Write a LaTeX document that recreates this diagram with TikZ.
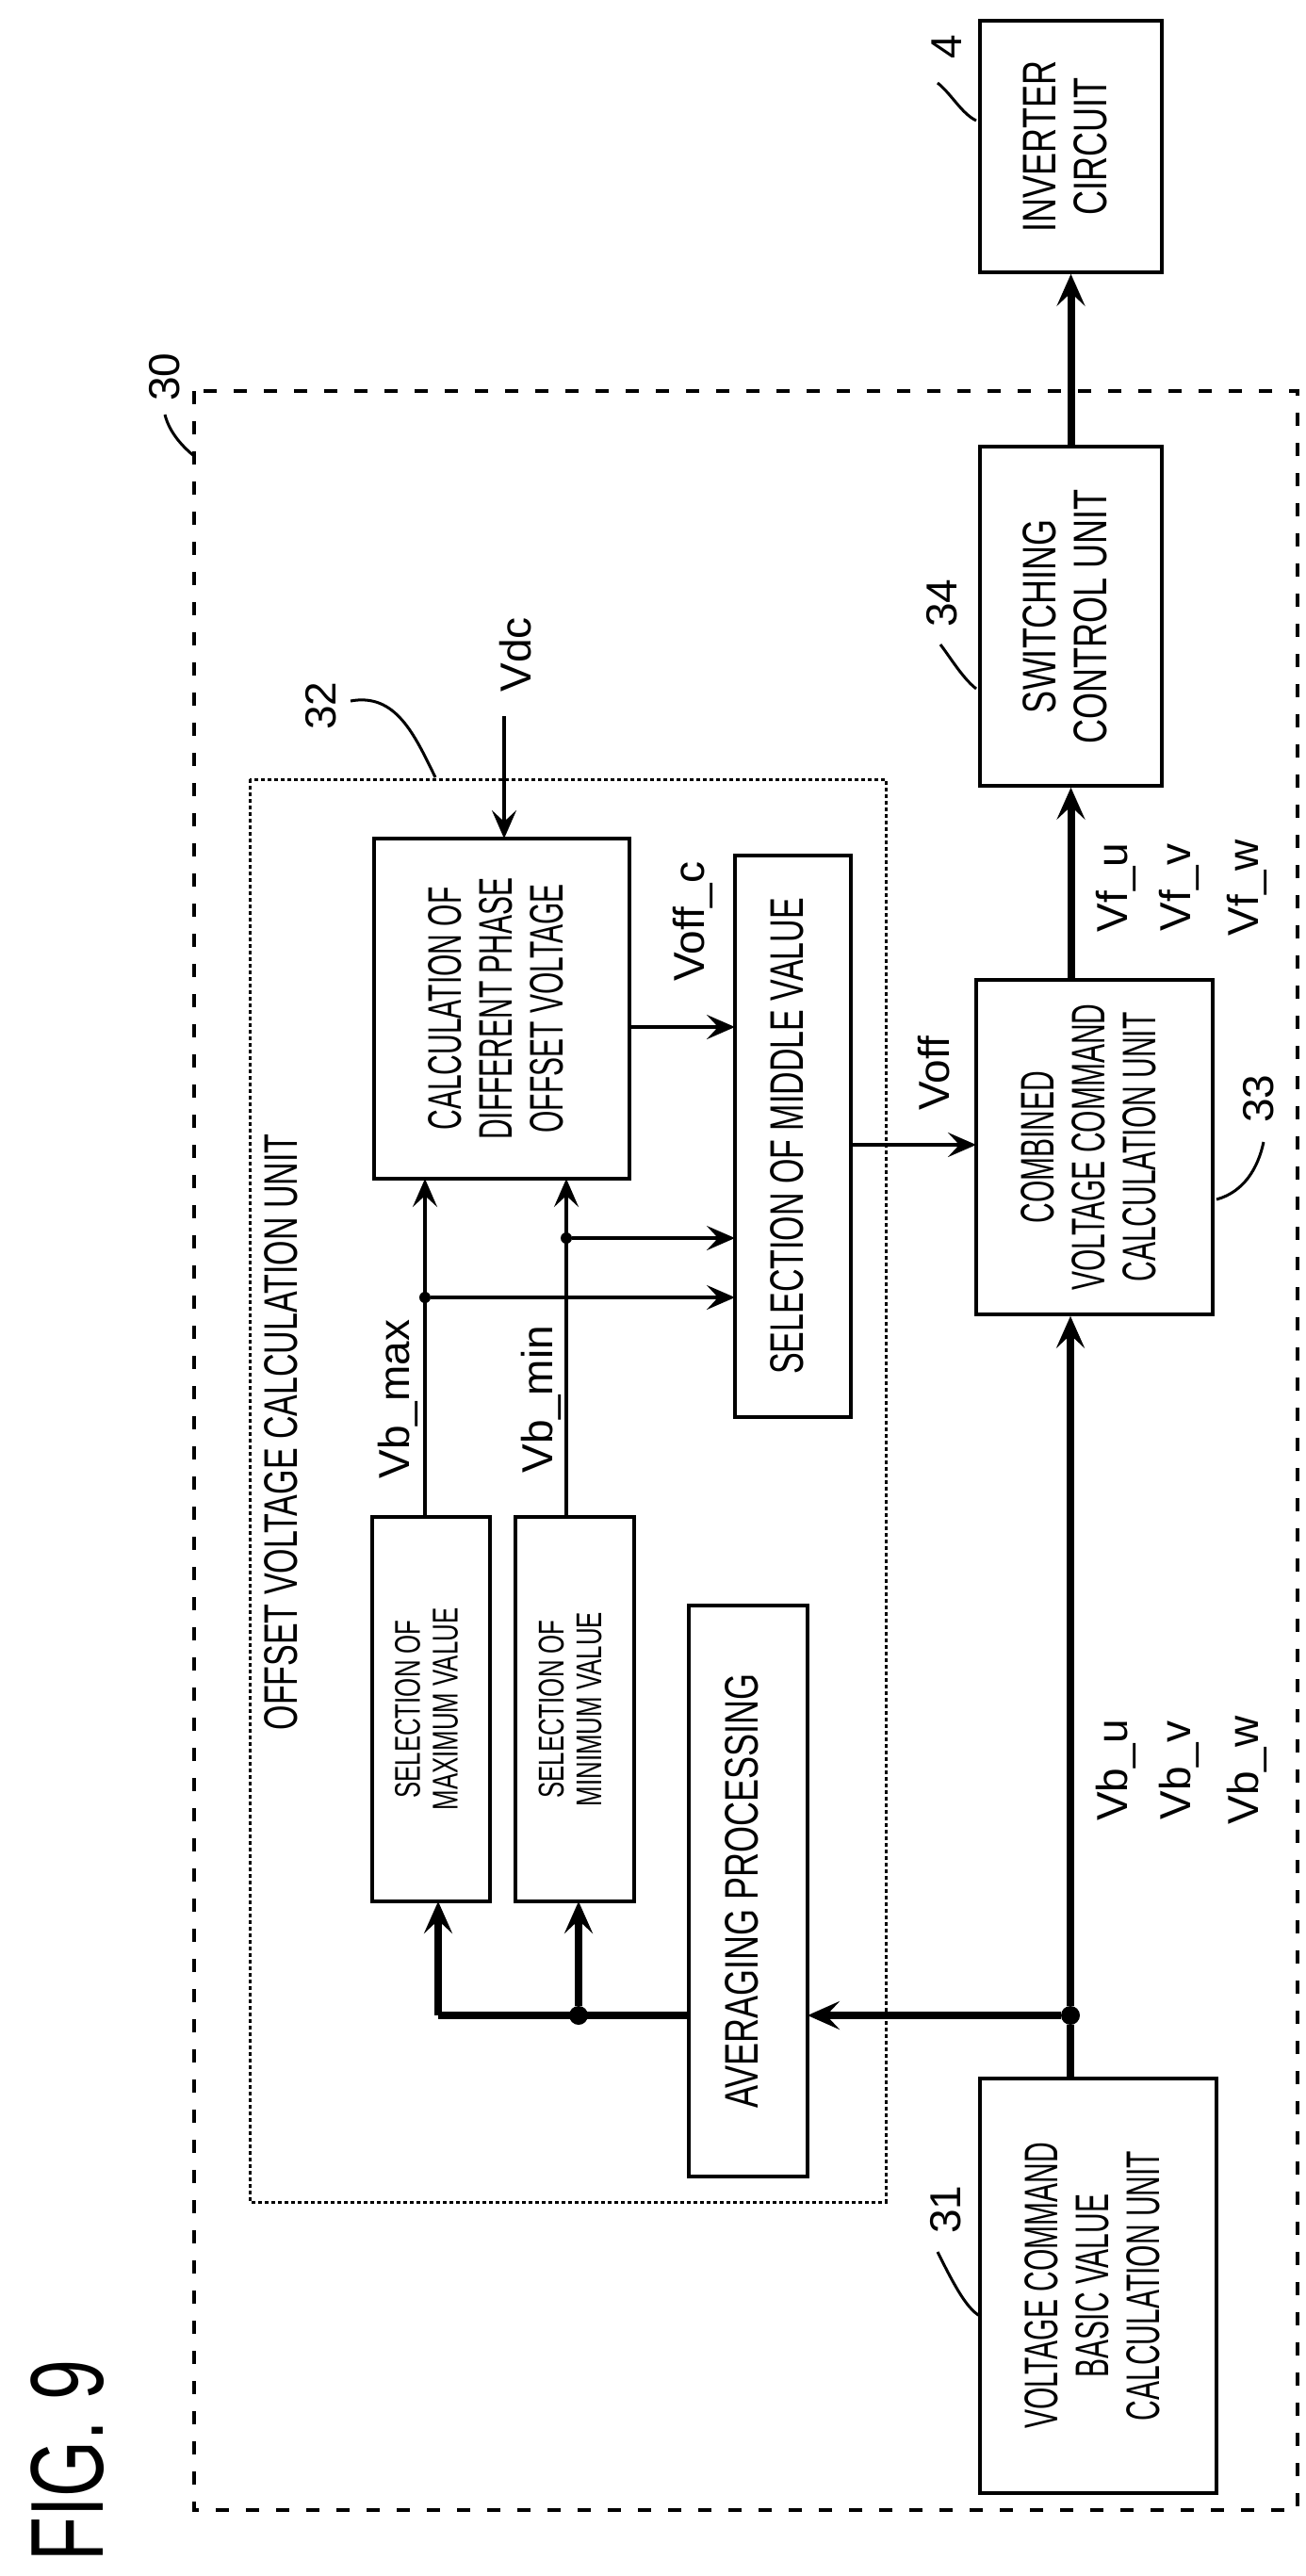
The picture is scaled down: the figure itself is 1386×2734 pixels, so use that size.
\documentclass[tikz,border=0pt]{standalone}
\usepackage{fontspec}
\setmainfont{Liberation Sans}
\usetikzlibrary{arrows.meta,fit}
\newcommand\cnd[2][0.72]{\scalebox{#1}[1]{\begin{tabular}{@{}c@{}}#2\end{tabular}}}
\begin{document}
\begin{tikzpicture}[x=1pt,y=-1pt,
  box/.style={draw,line width=3.5pt,inner sep=0pt},
  thin/.style={line width=3.5pt},
  thick/.style={line width=8pt},
  arr/.style={-{Stealth[length=34pt,width=30pt,inset=14pt]}},
  arrs/.style={-{Stealth[length=30pt,width=26pt,inset=12pt]}},
  txt/.style={rotate=90,font=\fontsize{50}{54}\selectfont,inner sep=0pt},
  stxt/.style={rotate=90,font=\fontsize{38}{40}\selectfont,inner sep=0pt},
  lab/.style={rotate=90,font=\fontsize{46}{50}\selectfont,inner sep=0pt},
  dot/.style={circle,fill,inner sep=0pt,minimum size=#1},
  hook/.style={line width=3pt}]
\useasboundingbox[fill=white] (0,0) rectangle (1386,2734);
% outer and inner dashed
\draw[line width=4pt,dash pattern=on 14pt off 18pt] (206,415) rectangle (1377,2664);
\draw[line width=3pt,dash pattern=on 4pt off 3pt] (265,827) rectangle (940,2337);
% boxes
\node[box,fit={(1040,22)(1233,289)}] (inv) {};
\node[txt] at (inv.center) {\cnd{INVERTER\\CIRCUIT}};
\node[box,fit={(1040,474)(1233,834)}] (sw) {};
\node[txt] at (sw.center) {\cnd{SWITCHING\\CONTROL UNIT}};
\node[box,fit={(397,890)(668,1251)}] (calc) {};
\node[txt] at (calc.center) {\cnd[0.6]{CALCULATION OF\\DIFFERENT PHASE\\OFFSET VOLTAGE}};
\node[box,fit={(780,908)(903,1504)}] (mid) {};
\node[txt] at (mid.center) {\cnd[0.68]{SELECTION OF MIDDLE VALUE}};
\node[box,fit={(1036,1040)(1287,1395)}] (comb) {};
\node[txt] at (comb.center) {\cnd[0.6]{COMBINED\\VOLTAGE COMMAND\\CALCULATION UNIT}};
\node[box,fit={(395,1610)(520,2018)}] (max) {};
\node[stxt] at (max.center) {\cnd[0.68]{SELECTION OF\\MAXIMUM VALUE}};
\node[box,fit={(547,1610)(673,2018)}] (min) {};
\node[stxt] at (min.center) {\cnd[0.68]{SELECTION OF\\MINIMUM VALUE}};
\node[box,fit={(731,1704)(857,2310)}] (avg) {};
\node[txt] at (avg.center) {\cnd{AVERAGING PROCESSING}};
\node[box,fit={(1040,2206)(1291,2646)}] (vc) {};
\node[txt] at (vc.center) {\cnd[0.6]{VOLTAGE COMMAND\\BASIC VALUE\\CALCULATION UNIT}};
\node[txt] (ovcu) at (305,1520) {\cnd[0.68]{OFFSET VOLTAGE CALCULATION UNIT}};
% numbers
\node[lab] (n4) at (1005,50) {4};
\draw[hook] (995,88) .. controls (1010,100) and (1020,120) .. (1036,128);
\node[lab] (n30) at (175,400) {30};
\draw[hook] (175,440) .. controls (180,460) and (195,475) .. (206,484);
\node[lab] (n34) at (1000,640) {34};
\draw[hook] (998,684) .. controls (1010,700) and (1022,720) .. (1036,731);
\node[lab] (n32) at (341,749) {32};
\draw[hook] (372,744) .. controls (420,735) and (440,780) .. (462,825);
\node[lab] (n33) at (1336,1166) {33};
\draw[hook] (1291,1273) .. controls (1320,1265) and (1335,1240) .. (1341,1212);
\node[lab] (n31) at (1004,2345) {31};
\draw[hook] (995,2390) .. controls (1010,2420) and (1025,2450) .. (1040,2458);
\node[rotate=90,inner sep=0pt,font=\fontsize{110}{120}\selectfont] at (72,2612) {\scalebox{0.7}[1]{FIG. 9}};
% signal labels
\node[lab] at (547,695) {Vdc};
\node[lab] at (735,978) {Voff\_c};
\node[lab] at (991,1139) {Voff};
\node[lab] at (422,1485) {Vb\_max};
\node[lab] at (574,1485) {Vb\_min};
\node[lab] at (1184,942) {Vf\_u};
\node[lab] at (1251,942) {Vf\_v};
\node[lab] at (1323,942) {Vf\_w};
\node[lab] at (1184,1879) {Vb\_u};
\node[lab] at (1251,1879) {Vb\_v};
\node[lab] at (1323,1879) {Vb\_w};
% connectors
\coordinate (vdcs) at (535,760);
\draw[thin,arrs] (vdcs) -- (535,890);
\draw[thick,arr] (sw.north) -- (inv.south);
\draw[thick,arr] (sw.south |- comb.north) -- (sw.south);
\draw[thin,arrs] (668,1090) -- (780,1090);
\draw[thin,arrs] (903,1215) -- (1036,1215);
\draw[thin,arrs] (451,1610) -- (451,1251);
\draw[thin,arrs] (601,1610) -- (601,1251);
\node[dot=12pt] (d1) at (601,1314) {};
\node[dot=12pt] (d2) at (451,1377) {};
\draw[thin,arrs] (d1) -- (780,1314);
\draw[thin,arrs] (d2) -- (780,1377);
\node[dot=20pt] (j1) at (1136,2139) {};
\node[dot=20pt] (j2) at (614,2139) {};
\draw[thick] (j1 |- vc.north) -- (j1);
\draw[thick,arr] (j1) -- (j1 |- comb.south);
\draw[thick,arr] (j1) -- (857,2139);
\draw[thick] (731,2139) -- (465,2139);
\draw[thick,arr] (465,2139) -- (465,2018);
\draw[thick,arr] (j2) -- (614,2018);
\end{tikzpicture}
\end{document}
